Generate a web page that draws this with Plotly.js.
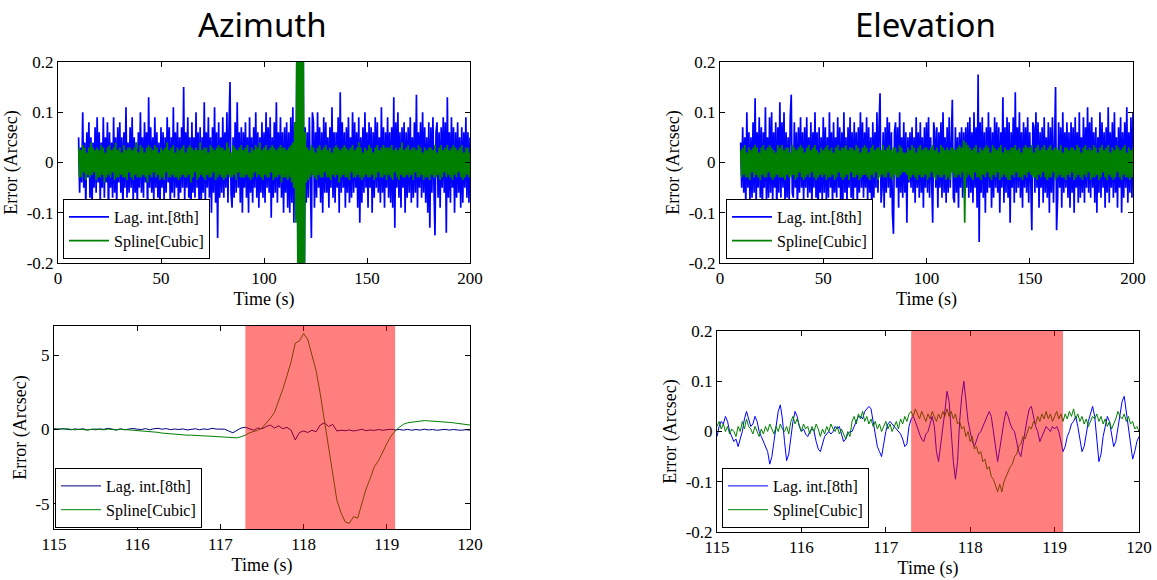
<!DOCTYPE html>
<html><head><meta charset="utf-8">
<script src="https://cdn.plot.ly/plotly-3.0.1.min.js"></script>
<style>html,body{margin:0;padding:0;background:#fff}#chart{width:1157px;height:580px}</style>
</head><body><div id="chart"></div>
<script>
// ---------- data ----------
const seriesNames = ["Lag. int.[8th]", "Spline[Cubic]"];
const panelTitles = ["Azimuth", "Elevation"];
const timeTitle = "Time (s)";
const errorTitle = "Error (Arcsec)";

// full run, sampled every 0.5 s from 10 s to 200 s
const topStart = 10, topStep = 0.5;
const azLagTop = [
.05,-.06,.03,-.04,.10,-.05,.04,-.09,.06,-.03,.08,-.07,.05,-.10,.04,-.05,.07,-.06,.09,-.04,
.06,-.08,.04,-.05,.09,-.07,.05,-.04,.08,-.11,.06,-.05,.04,-.07,.09,-.06,.05,-.09,.07,-.04,
.08,-.06,.05,-.10,.06,-.05,.11,-.07,.04,-.06,.07,-.05,.09,-.08,.05,-.06,.04,-.09,.06,-.05,
.10,-.06,.05,-.07,.08,-.04,.06,-.11,.13,-.05,.07,-.06,.05,-.08,.09,-.05,.06,-.07,.04,-.10,
.07,-.05,.06,-.08,.05,-.06,.09,-.04,.07,-.09,.05,-.06,.11,-.07,.06,-.05,.08,-.10,.05,-.06,
.07,-.05,.15,-.08,.06,-.05,.09,-.07,.05,-.12,.08,-.06,.05,-.07,.10,-.05,.06,-.08,.07,-.09,
.05,-.06,.12,-.08,.06,-.05,.09,-.07,.05,-.10,.07,-.06,.11,-.08,.06,-.15,.08,-.07,.05,-.06,
.09,-.07,.06,-.05,.10,-.08,.07,.16,-.06,-.09,.05,-.07,.08,-.06,.12,-.05,.06,-.08,.07,-.10,
.06,-.05,.08,-.07,.05,-.10,.09,-.06,.05,-.08,.07,-.05,.10,-.07,.06,-.09,.05,-.06,.08,-.07,
.06,-.08,.10,-.05,.07,-.06,.09,-.11,.05,-.07,.08,-.06,.12,-.08,.06,-.05,.09,-.07,.06,-.10,
.07,-.06,.08,-.09,.06,-.10,.09,-.08,.11,-.12,.08,-.10,.25,-.25,.3,-.3,.3,-.3,.3,-.3,
.07,-.08,.06,-.07,.09,-.06,-.15,.10,.08,-.09,.06,-.07,.10,-.05,.07,-.08,.06,-.10,.09,-.06,
.08,-.06,.05,-.09,.07,-.05,.11,-.07,.06,-.08,.06,-.05,.09,-.10,.14,-.06,.08,-.05,.06,-.09,
.07,-.06,.09,-.08,.05,-.07,.10,-.06,.08,-.05,.06,-.09,.09,-.12,.05,-.08,.07,-.06,.10,-.05,
.06,-.09,.08,-.05,.07,-.10,.06,-.07,.09,-.05,.08,-.06,.05,-.08,.11,-.06,.07,-.09,.06,-.05,
.09,-.07,.06,-.08,.07,-.09,.13,-.13,.08,-.05,.10,-.07,.06,-.09,.07,-.05,.08,-.10,.06,-.07,
.07,-.06,.09,-.08,.05,-.07,.08,-.06,.135,-.09,.06,-.05,.08,-.07,.10,-.06,.07,-.08,.05,-.10,
.08,-.13,.07,-.06,.09,-.05,-.145,.06,.08,-.07,.06,-.09,.07,-.05,.09,-.06,.08,-.14,.13,-.07,
.06,-.08,.09,-.05,.07,-.10,.06,-.07,.08,-.06,.05,-.09,.07,-.08,.06,-.05,.09,-.07,.06,-.08,
.05];
const azSplineTop = [
.03,-.03,.025,-.03,.035,-.02,.03,-.035,.02,-.025,.03,-.03,.04,-.025,.03,-.02,.025,-.035,.03,-.03,
.025,-.03,.035,-.025,.03,-.04,.02,-.03,.03,-.025,.035,-.03,.025,-.02,.03,-.035,.04,-.03,.025,-.03,
.03,-.025,.02,-.03,.035,-.03,.025,-.035,.03,-.02,.03,-.03,.025,-.035,.03,-.025,.04,-.03,.02,-.03,
.035,-.03,.03,-.025,.02,-.03,.03,-.04,.035,-.025,.03,-.03,.025,-.02,.035,-.03,.03,-.025,.02,-.035,
.03,-.03,.025,-.035,.03,-.02,.04,-.03,.025,-.03,.03,-.025,.035,-.03,.02,-.03,.03,-.035,.025,-.03,
.03,-.025,.035,-.03,.02,-.03,.03,-.025,.035,-.04,.03,-.03,.025,-.02,.03,-.035,.025,-.03,.04,-.025,
.025,-.03,.03,-.035,.03,-.025,.02,-.03,.035,-.03,.03,-.02,.025,-.035,.03,-.03,.035,-.025,.03,-.03,
.03,-.035,.025,-.03,.04,-.025,.03,-.03,.02,-.03,.035,-.025,.03,-.035,.025,-.02,.03,-.03,.035,-.03,
.025,-.03,.03,-.025,.035,-.03,.02,-.035,.03,-.03,.025,-.02,.035,-.03,.03,-.025,.04,-.03,.025,-.035,
.03,-.025,.035,-.03,.025,-.03,.03,-.02,.035,-.035,.03,-.03,.025,-.03,.03,-.025,.035,-.04,.03,-.03,
.03,-.03,.025,-.035,.03,-.03,.035,-.04,.04,-.05,.08,-.12,.3,-.3,.3,-.3,.3,-.3,.3,-.3,
.06,-.04,.03,-.035,.025,-.03,.035,-.025,.03,-.03,.02,-.035,.03,-.025,.035,-.03,.025,-.03,.03,-.02,
.035,-.03,.025,-.03,.03,-.035,.02,-.025,.03,-.03,.035,-.025,.03,-.04,.025,-.03,.03,-.025,.035,-.03,
.03,-.03,.025,-.035,.03,-.02,.035,-.03,.025,-.03,.03,-.025,.04,-.03,.03,-.035,.02,-.03,.03,-.025,
.025,-.03,.035,-.03,.03,-.025,.02,-.035,.03,-.03,.035,-.02,.025,-.03,.03,-.03,.035,-.025,.03,-.035,
.03,-.025,.03,-.03,.035,-.035,.025,-.02,.03,-.03,.025,-.035,.03,-.025,.04,-.03,.025,-.03,.03,-.025,
.035,-.03,.025,-.025,.03,-.035,.03,-.02,.025,-.03,.035,-.03,.03,-.025,.02,-.035,.03,-.03,.025,-.03,
.03,-.035,.03,-.025,.025,-.03,.035,-.03,.02,-.025,.03,-.035,.035,-.03,.025,-.02,.03,-.03,.035,-.025,
.025,-.03,.03,-.035,.035,-.025,.03,-.03,.025,-.02,.03,-.03,.035,-.035,.02,-.03,.03,-.025,.03,-.03,
.02];
const elLagTop = [
.04,-.05,.07,-.06,.05,-.09,.10,-.05,.06,-.08,.05,-.07,.08,-.06,.128,-.09,.06,-.05,.09,-.07,
.07,-.10,.06,-.05,.11,-.08,.05,-.07,.09,-.06,.10,-.08,.06,-.05,.08,-.11,.07,-.06,.12,-.07,
.08,-.05,.10,-.09,.06,-.07,.05,-.08,.09,.135,-.06,-.07,.08,-.05,.06,-.10,.07,-.06,.09,-.05,
.06,-.08,.07,-.05,.09,-.07,.05,-.06,.08,-.09,.06,-.05,.10,-.07,.06,-.12,.07,-.06,.05,-.08,
.09,-.06,.07,-.08,.05,-.07,.10,-.05,.06,-.09,.08,-.06,.05,-.07,.09,-.05,.07,-.10,.06,-.08,
.10,-.06,.05,-.08,.07,-.05,.09,-.07,.06,-.10,.08,-.05,.06,-.09,.07,-.06,.10,-.05,.08,-.07,
.06,-.05,.09,-.08,.07,-.06,.05,-.12,.08,-.07,.06,-.05,.10,-.06,.07,.138,-.08,-.05,.06,-.09,
.07,-.06,.09,-.05,.08,-.07,.06,-.10,-.142,.06,.08,-.05,.07,-.09,.10,-.06,.05,-.07,.08,-.06,
.06,-.12,.05,-.04,.06,-.05,.07,-.06,.05,-.08,.09,-.05,.06,-.07,.08,-.06,.05,-.09,.07,-.05,
.08,-.06,.09,-.07,.05,-.06,-.12,.08,.06,-.05,.07,-.09,.06,-.05,.08,-.07,.10,-.06,.05,-.08,
.07,-.06,.09,-.05,.06,.125,-.07,-.08,.07,-.06,.05,-.09,.06,-.05,.07,-.07,.06,-.06,.07,-.05,
.08,-.07,.09,-.06,.06,-.08,.10,-.05,.07,-.09,.175,-.158,.08,-.06,.09,-.07,.06,-.10,.07,-.06,
.10,-.05,.07,-.09,.06,-.07,.09,-.05,.08,-.06,.07,-.10,.06,-.05,.13,-.08,.07,-.06,.09,-.07,
.08,-.12,.06,-.05,.09,-.08,.14,-.06,.07,-.05,.10,-.07,.06,-.09,.08,-.05,.07,-.06,.09,-.08,
.06,-.07,-.135,.08,.07,-.06,.10,-.05,.08,-.09,.06,-.05,.07,-.08,.09,-.06,.05,-.07,.08,-.10,
.07,-.06,.09,-.08,.05,.15,-.135,-.07,.08,-.05,.07,-.09,.10,-.06,.06,-.05,.08,-.07,.06,-.09,
.08,-.06,.07,-.10,.09,-.05,.06,-.08,.10,-.07,.05,-.06,.09,-.08,.07,-.05,.11,-.06,.08,-.07,
.09,-.05,.06,-.08,.07,-.10,.05,-.06,.10,-.07,.08,-.05,.06,-.09,.07,-.06,.11,-.08,.06,-.05,
.08,-.07,.10,-.06,.05,-.09,.07,-.05,.09,-.10,.06,-.07,.08,-.05,.11,-.08,.06,-.06,.09,-.07,
.10];
const elSplineTop = [
.025,-.03,.03,-.025,.035,-.03,.02,-.03,.03,-.035,.025,-.02,.03,-.03,.035,-.025,.03,-.03,.02,-.035,
.03,-.025,.035,-.03,.025,-.03,.03,-.02,.035,-.03,.03,-.035,.025,-.03,.02,-.025,.035,-.03,.03,-.03,
.035,-.03,.025,-.035,.03,-.025,.03,-.03,.02,-.03,.035,-.025,.03,-.035,.025,-.03,.03,-.02,.035,-.03,
.03,-.035,.02,-.03,.03,-.025,.035,-.03,.025,-.02,.03,-.03,.035,-.035,.025,-.03,.02,-.025,.03,-.03,
.025,-.025,.03,-.035,.035,-.03,.025,-.03,.03,-.025,.02,-.035,.03,-.03,.035,-.02,.025,-.03,.03,-.035,
.03,-.03,.035,-.025,.025,-.035,.03,-.02,.03,-.03,.025,-.03,.035,-.025,.03,-.035,.02,-.03,.03,-.025,
.035,-.025,.03,-.03,.02,-.035,.03,-.025,.035,-.03,.025,-.02,.03,-.035,.03,-.03,.025,-.025,.035,-.03,
.025,-.03,.03,-.02,.035,-.03,.025,-.035,.03,-.025,.03,-.03,.02,-.03,.035,-.025,.03,-.02,.02,-.02,
.02,-.025,.03,-.035,.025,-.03,.035,-.025,.03,-.03,.02,-.035,.03,-.025,.035,-.03,.025,-.03,.03,-.025,
.03,-.035,.025,-.03,.03,-.02,.035,-.03,.025,-.035,.03,-.025,.02,-.03,.035,-.03,.03,-.025,.025,-.035,
.03,-.03,.025,-.035,.03,-.02,.03,-.03,.025,-.03,.03,-.025,.035,-.03,.03,-.02,.045,-.12,.04,-.03,
.035,-.025,.03,-.03,.025,-.035,.03,-.02,.035,-.03,.02,-.03,.03,-.035,.025,-.025,.03,-.03,.035,-.02,
.03,-.03,.02,-.035,.035,-.025,.03,-.03,.025,-.02,.03,-.035,.035,-.03,.02,-.025,.03,-.03,.025,-.035,
.025,-.035,.03,-.025,.03,-.03,.035,-.02,.025,-.03,.03,-.03,.02,-.035,.03,-.025,.035,-.03,.03,-.02,
.03,-.025,.035,-.03,.02,-.03,.03,-.035,.035,-.025,.025,-.03,.03,-.02,.035,-.03,.025,-.035,.03,-.03,
.035,-.03,.025,-.02,.03,-.035,.03,-.03,.025,-.025,.035,-.03,.02,-.03,.03,-.035,.03,-.025,.025,-.03,
.03,-.02,.03,-.035,.025,-.03,.035,-.025,.03,-.03,.02,-.035,.03,-.025,.035,-.03,.025,-.02,.03,-.035,
.025,-.03,.035,-.03,.03,-.025,.02,-.035,.03,-.03,.035,-.02,.025,-.03,.03,-.035,.035,-.025,.02,-.03,
.03,-.035,.025,-.03,.035,-.02,.03,-.03,.025,-.035,.03,-.025,.035,-.03,.02,-.03,.03,-.035,.025,-.03,
.03];

// zoomed window 115 s - 120 s
const zoomStart = 115;
const azZoomStep = 0.05;
const azLagZoom = [
.05,.02,.06,.03,-.02,.04,0,.05,-.03,.02,-.02,.04,.01,.08,.02,-.03,.05,-.02,.03,.07,
.02,0,.06,-.02,.05,.08,.02,.06,-.01,.03,0,.04,-.03,.02,.05,-.02,.04,0,.08,.03,
.05,.02,-.10,-.22,-.05,.10,.15,.05,-.05,.10,.05,.20,.30,.10,.25,.05,.15,-.05,-.70,-.20,
-.10,-.20,-.05,-.15,.30,.45,.20,.35,-.10,-.05,-.08,-.03,-.10,-.05,.02,-.08,-.03,-.06,0,-.05,
-.02,.02,-.03,0,-.04,.01,-.05,0,-.04,.02,-.03,0,-.05,-.02,.01,-.04,0,-.03,-.05,-.01,
-.04];
const azSplineZoom = [
.02,0,.03,.05,.01,-.02,.02,0,-.03,.01,.04,0,-.02,.03,.01,-.03,.02,0,-.04,-.02,
-.05,-.06,-.10,-.13,-.17,-.19,-.24,-.27,-.28,-.31,-.33,-.36,-.38,-.38,-.41,-.42,-.43,-.44,-.46,-.47,
-.49,-.50,-.53,-.55,-.56,-.48,-.38,-.22,-.15,-.05,.10,.40,.75,1.15,1.90,2.70,3.60,4.55,5.80,5.95,
6.45,6.05,5.00,3.95,2.40,.60,-1.10,-3.00,-4.75,-5.60,-6.20,-6.30,-5.85,-5.95,-4.90,-4.00,-3.30,-2.50,-2.10,-1.50,
-.95,-.45,-.10,.15,.35,.45,.50,.55,.57,.60,.58,.57,.55,.52,.50,.48,.45,.42,.38,.34,
.30];
const elZoomStep = 0.025;
const elLagZoom = [
-.010,.010,.020,.015, .030,.020,.000,-.010, -.020,-.015,-.030,-.015, .000,.025,.040,.025, .010,.015,.030,.020,
.000,-.010,-.020,-.030, -.040,-.065,-.050,-.020, .010,.040,.053,.025, -.020,-.058,-.045,-.010, .020,.040,.030,.010,
.000,.005,-.005,-.010, .000,.005,.000,-.020, -.035,-.040,-.025,-.010, -.005,.000,-.005,.000, .010,.005,.010,-.005,
-.020,-.015,-.005,.000, .000,.010,.020,.030, .030,.025,.040,.045, .050,.045,.020,-.010, -.030,-.040,-.050,-.025,
.000,.015,.020,.015, .010,.005,.000,-.005, -.015,-.030,-.025,.010, .025,.030,.020,.005, -.005,-.015,-.020,-.005,
.000,.015,.030,.010, -.040,-.060,-.030,.000, .040,.080,.060,.000, -.060,-.095,-.060,.020, .070,.100,.060,.020,
.000,-.020,-.030,-.015, -.005,.000,.010,.020, .030,.040,.030,.000, -.040,-.060,-.035,-.005, .020,.040,.030,.015,
.005,.000,-.020,-.040, -.050,-.020,.000,.025, .045,.050,.030,.010, .000,-.020,-.010,.000, .010,.005,.000,.010,
.005,.010,.000,-.020, -.040,-.030,-.010,.000, .015,.020,.030,.010, -.020,-.040,-.030,.000, .020,.035,.050,.030,
-.010,-.060,-.045,-.010, .010,.030,.020,-.010, -.030,-.020,.010,.040, .060,.070,.040,.000, -.030,-.055,-.040,-.020,
-.010];
const elSplineZoom = [
.010,.020,.005,.015, .000,.010,-.005,.005, .000,-.010,.010,.000, .020,.005,.025,.010, .005,-.005,.010,.000,
-.010,.005,-.005,.010, .000,.015,.005,-.005, .010,.000,.015,.005, .000,.010,-.005,.020, .030,.015,.025,.010,
.000,.015,.005,.010, -.005,.010,.000,.015, .005,-.010,.005,-.005, .010,.000,.015,.005, .000,.010,-.005,.005,
-.005,-.015,.000,-.010, .020,.030,.015,.035, .025,.040,.020,.030, .015,.025,.010,.020, .005,.015,.000,.010,
.020,.005,.015,.000, .010,.020,.005,.025, .015,.030,.020,.035, .040,.030,.045,.035, .025,.040,.030,.020,
.035,.025,.040,.030, .020,.035,.025,.040, .030,.045,.030,.040, .025,.035,.015,.020, .005,.010,-.010,.000,
-.020,-.010,-.035,-.030, -.045,-.040,-.060,-.055, -.075,-.070,-.090,-.095, -.110,-.120,-.105,-.120, -.100,-.090,-.080,-.070,
-.065,-.050,-.045,-.030, -.025,-.010,-.015,.000, .010,.005,.020,.015, .030,.020,.035,.025, .040,.025,.035,.020,
.030,.040,.025,.035, .020,.035,.025,.040, .030,.045,.025,.035, .020,.030,.015,.025, .010,.020,.030,.025,
.035,.020,.030,.015, .025,.010,.020,.005, .015,.025,.040,.030, .025,.035,.020,.030, .015,.020,.005,.010,
.000];

// shaded interval (s)
const shadeWindow = [117.3, 119.1];

// axis ticks
const topXTicks = [0, 50, 100, 150, 200];
const topXLabels = ["0", "50", "100", "150", "200"];
const errTicks = [-0.2, -0.1, 0, 0.1, 0.2];
const errLabels = ["-0.2", "-0.1", "0", "0.1", "0.2"];
const zoomXTicks = [115, 116, 117, 118, 119, 120];
const zoomXLabels = ["115", "116", "117", "118", "119", "120"];
const azZoomYTicks = [-5, 0, 5];
const azZoomYLabels = ["-5", "0", "5"];

// ---------- build ----------
function times(start, step, n) { return Array.from({length: n}, (_, i) => +(start + i * step).toFixed(4)); }
const tTop = times(topStart, topStep, azLagTop.length);
const tAz = times(zoomStart, azZoomStep, azLagZoom.length);
const tEl = times(zoomStart, elZoomStep, elLagZoom.length);

const BLUE = '#0000ff', NAVY = '#00007a', GREEN = '#008000';
const SERIF = '"Liberation Serif", "Times New Roman", serif';

function tr(x, y, name, color, xa, ya, lg, w) {
  return {type: 'scatter', mode: 'lines', x: x, y: y, name: name, xaxis: xa, yaxis: ya,
          legend: lg, line: {color: color, width: w || 1}, hoverinfo: 'skip'};
}
const data = [
  tr(tTop, azLagTop, seriesNames[0], BLUE, 'x', 'y', 'legend', 1.7),
  tr(tTop, azSplineTop, seriesNames[1], GREEN, 'x', 'y', 'legend', 1.7),
  tr(tTop, elLagTop, seriesNames[0], BLUE, 'x2', 'y2', 'legend2', 1.7),
  tr(tTop, elSplineTop, seriesNames[1], GREEN, 'x2', 'y2', 'legend2', 1.7),
  tr(tAz, azLagZoom, seriesNames[0], NAVY, 'x3', 'y3', 'legend3', 1),
  tr(tAz, azSplineZoom, seriesNames[1], GREEN, 'x3', 'y3', 'legend3', 1),
  tr(tEl, elLagZoom, seriesNames[0], BLUE, 'x4', 'y4', 'legend4', 1),
  tr(tEl, elSplineZoom, seriesNames[1], GREEN, 'x4', 'y4', 'legend4', 1)
];

const W = 1157, H = 580;
function px(a, b) { return [a / W, b / W]; }
function py(top, bottom) { return [1 - bottom / H, 1 - top / H]; }

function axis(domain, anchor, range, vals, texts, title, standoff) {
  return {domain: domain, anchor: anchor, range: range, tickmode: 'array', tickvals: vals, ticktext: texts,
    ticks: 'inside', ticklen: 5, tickwidth: 1, tickcolor: '#000', showline: true, linecolor: '#000', linewidth: 1,
    mirror: 'ticks', showgrid: false, zeroline: false, automargin: false, fixedrange: true,
    tickfont: {family: SERIF, size: 17, color: '#000'},
    title: {text: title, font: {family: SERIF, size: 18, color: '#000'}, standoff: standoff}};
}
function legend(x, y) {
  return {x: x / W, y: 1 - y / H, xanchor: 'left', yanchor: 'bottom', bgcolor: '#fff', bordercolor: '#000',
    borderwidth: 1, font: {family: SERIF, size: 16, color: '#000'}, tracegroupgap: 0, traceorder: 'normal',
    itemwidth: 40};
}

const layout = {
  width: W, height: H, margin: {l: 0, r: 0, t: 0, b: 0}, paper_bgcolor: '#fff', plot_bgcolor: '#fff',
  showlegend: true, hovermode: false,
  xaxis:  axis(px(58, 470), 'y', [0, 200], topXTicks, topXLabels, timeTitle, 4),
  yaxis:  axis(py(62, 263), 'x', [-0.2, 0.2], errTicks, errLabels, errorTitle, 4),
  xaxis2: axis(px(720, 1133), 'y2', [0, 200], topXTicks, topXLabels, timeTitle, 4),
  yaxis2: axis(py(62, 263), 'x2', [-0.2, 0.2], errTicks, errLabels, errorTitle, 4),
  xaxis3: axis(px(54, 470), 'y3', [115, 120], zoomXTicks, zoomXLabels, timeTitle, 4),
  yaxis3: axis(py(326, 529), 'x3', [-6.68, 6.95], azZoomYTicks, azZoomYLabels, errorTitle, 4),
  xaxis4: axis(px(717, 1139), 'y4', [115, 120], zoomXTicks, zoomXLabels, timeTitle, 4),
  yaxis4: axis(py(331, 532), 'x4', [-0.2, 0.2], errTicks, errLabels, errorTitle, 4),
  legend: legend(63, 259), legend2: legend(726, 259), legend3: legend(55, 528), legend4: legend(722, 528),
  shapes: [
    {type: 'rect', xref: 'x3', yref: 'y3 domain', x0: shadeWindow[0], x1: shadeWindow[1], y0: 0, y1: 1,
     fillcolor: 'rgba(255,0,0,0.5)', line: {width: 0}, layer: 'above'},
    {type: 'rect', xref: 'x4', yref: 'y4 domain', x0: shadeWindow[0], x1: shadeWindow[1], y0: 0, y1: 1,
     fillcolor: 'rgba(255,0,0,0.5)', line: {width: 0}, layer: 'above'}
  ],
  annotations: [
    {text: panelTitles[0], xref: 'paper', yref: 'paper', x: 262 / W, y: 1, xanchor: 'center', yanchor: 'top',
     showarrow: false, font: {family: '"Noto Sans", "Open Sans", sans-serif', size: 33, color: '#000'}},
    {text: panelTitles[1], xref: 'paper', yref: 'paper', x: 925 / W, y: 1, xanchor: 'center', yanchor: 'top',
     showarrow: false, font: {family: '"Noto Sans", "Open Sans", sans-serif', size: 33, color: '#000'}}
  ]
};

Plotly.newPlot('chart', data, layout, {staticPlot: true, displayModeBar: false});
</script>
</body></html>
